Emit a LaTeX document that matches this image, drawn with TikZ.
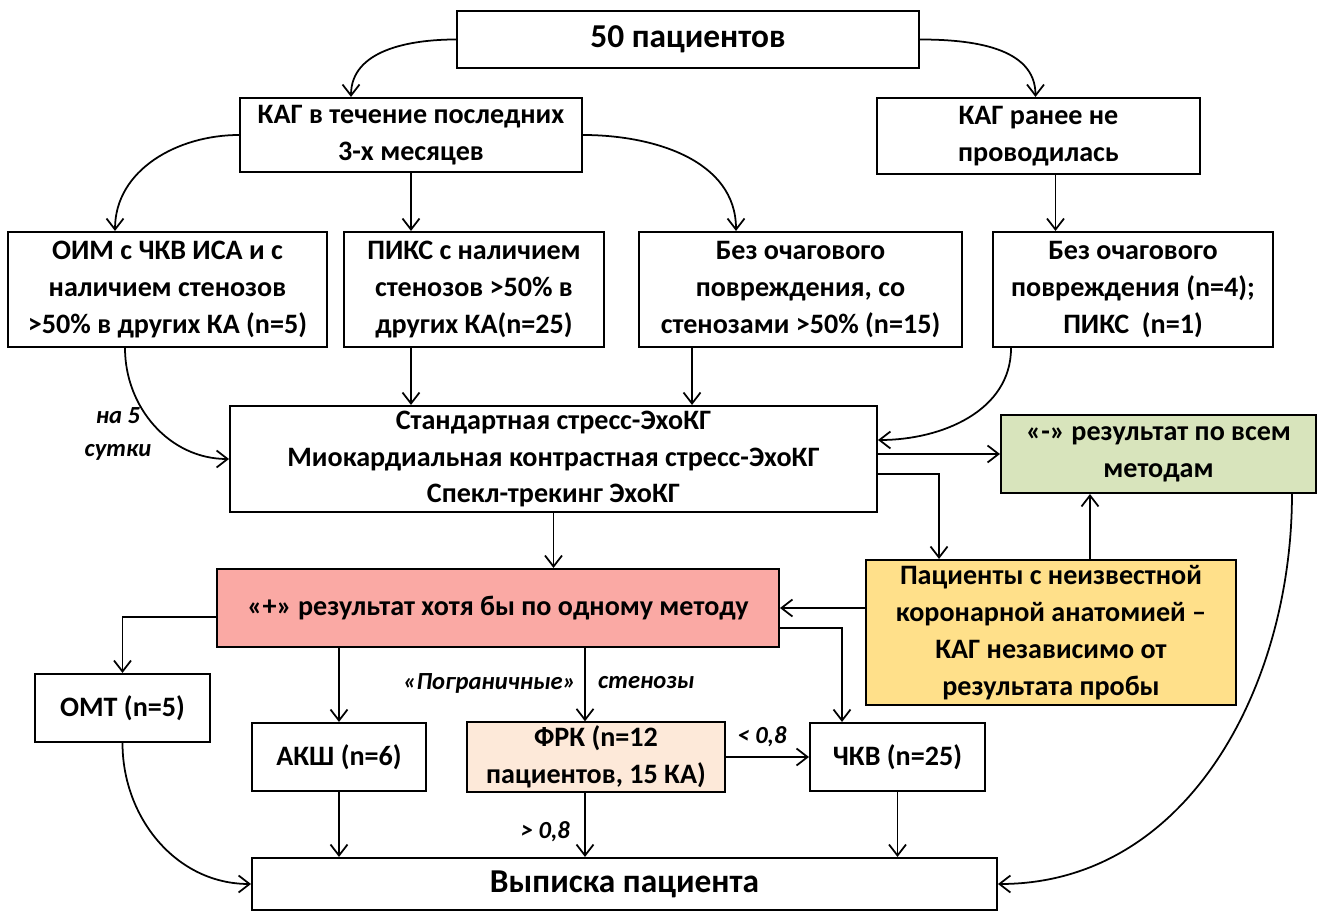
\documentclass[tikz,border=0pt]{standalone}
\usepackage{fontspec}
\setmainfont{Carlito}
\usetikzlibrary{arrows.meta}
\definecolor{posred}{RGB}{250,169,164}
\definecolor{neggreen}{RGB}{216,228,188}
\definecolor{unkyellow}{RGB}{255,224,138}
\definecolor{frkpeach}{RGB}{253,233,217}

\begin{document}
\begin{tikzpicture}[x=0.02cm, y=-0.02cm,
    box/.style={draw, line width=1.2pt, align=center, inner sep=2pt,
        font=\bfseries\fontsize{16}{21}\selectfont},
    bigbox/.style={box, font=\bfseries\fontsize{19}{23}\selectfont},
    arr/.style={-{Straight Barb[length=2.2mm,width=3.4mm]}, line width=1pt},
    lbl/.style={font=\bfseries\itshape\fontsize{14}{19}\selectfont, inner sep=1pt}]
    \useasboundingbox (0,0) rectangle (1328,911);

    % Top level
    \node[bigbox, minimum width=9.24cm, minimum height=1.14cm] (top) at (688,39.5) {50 пациентов};
    \node[box, minimum width=6.84cm, minimum height=1.48cm] (kag1) at (411,135) {КАГ в течение последних\\3-х месяцев};
    \node[box, minimum width=6.46cm, minimum height=1.52cm] (kag2) at (1038.5,136) {КАГ ранее не\\проводилась};

    % Patient groups
    \node[box, minimum width=6.38cm, minimum height=2.3cm] (oim) at (167.5,289.5) {ОИМ с ЧКВ ИСА и с\\наличием стенозов\\>50\% в других КА (n=5)};
    \node[box, minimum width=5.2cm, minimum height=2.3cm] (piks) at (474,289.5) {ПИКС с наличием\\стенозов >50\% в\\других КА(n=25)};
    \node[box, minimum width=6.46cm, minimum height=2.3cm] (bez1) at (800.5,289.5) {Без очагового\\повреждения, со\\стенозами >50\% (n=15)};
    \node[box, minimum width=5.6cm, minimum height=2.3cm] (bez2) at (1133,289.5) {Без очагового\\повреждения (n=4);\\ПИКС~ (n=1)};

    % Stress echo
    \node[box, minimum width=12.94cm, minimum height=2.12cm] (echo) at (553.5,459) {Стандартная стресс-ЭхоКГ\\Миокардиальная контрастная стресс-ЭхоКГ\\Спекл-трекинг ЭхоКГ};
    \node[box, fill=neggreen, minimum width=6.3cm, minimum height=1.56cm] (neg) at (1158.5,454) {«-» результат по всем\\методам};
    \node[box, fill=posred, minimum width=11.24cm, minimum height=1.56cm] (pos) at (498,608) {«+» результат хотя бы по одному методу};
    \node[box, fill=unkyellow, minimum width=7.4cm, minimum height=2.9cm] (unk) at (1051,632.5) {Пациенты с неизвестной\\коронарной анатомией –\\КАГ независимо от\\результата пробы};

    % Treatment
    \node[box, minimum width=3.5cm, minimum height=1.36cm] (omt) at (122.5,708) {ОМТ (n=5)};
    \node[box, minimum width=3.48cm, minimum height=1.36cm] (aksh) at (339,757) {АКШ (n=6)};
    \node[box, fill=frkpeach, minimum width=5.16cm, minimum height=1.36cm] (frk) at (596,757) {ФРК (n=12\\пациентов, 15 КА)};
    \node[box, minimum width=3.5cm, minimum height=1.36cm] (chkv) at (897.5,757) {ЧКВ (n=25)};
    \node[bigbox, minimum width=14.9cm, minimum height=1.04cm] (out) at (624.5,884) {Выписка пациента};

    % Arrows, upper part
    \draw[arr] (top.west) to[out=180, in=90] ([xshift=-1.2cm]kag1.north);
    \draw[arr] (top.east) to[out=0, in=90] ([xshift=-0.06cm]kag2.north);
    \draw[arr] (kag1.west) to[out=180, in=90] ([xshift=-1.05cm]oim.north);
    \draw[arr] (kag1.south) -- (kag1.south |- piks.north);
    \draw[arr] (kag1.east) to[out=0, in=90] ([xshift=-1.29cm]bez1.north);
    \coordinate (kag2out) at ([xshift=0.34cm]kag2.south);
    \draw[arr] (kag2out) -- (kag2out |- bez2.north);

    % Arrows into stress echo
    \draw[arr] ([xshift=-0.85cm]oim.south) to[out=-90, in=180] (echo.west);
    \node[lbl, align=center] (days) at (118,434) {на 5\\сутки};
    \draw[arr] (piks.south -| kag1.south) -- (kag1.south |- echo.north);
    \coordinate (bez1out) at ([xshift=-2.17cm]bez1.south);
    \draw[arr] (bez1out) -- (bez1out |- echo.north);
    \draw[arr] ([xshift=-2.44cm]bez2.south) to[out=-90, in=0] ([yshift=0.38cm]echo.east);

    % Stress echo results
    \draw[arr] (echo.east |- neg.west) -- (neg.west);
    \draw[arr] ([yshift=-0.3cm]echo.east) -| ([xshift=-2.24cm]unk.north);
    \coordinate (unkup) at ([xshift=0.78cm]unk.north);
    \draw[arr] (unkup) -- (unkup |- neg.south);
    \draw[arr] (unk.west |- pos.east) -- (pos.east);
    \draw[arr] (echo.south) -- (echo.south |- pos.north);
    \draw[arr] ([xshift=2.67cm]neg.south) to[out=-90, in=0] (out.east);

    % Treatment arrows
    \draw[arr] ([yshift=-0.18cm]pos.west) -| (omt.north);
    \draw[arr] (aksh.north |- pos.south) -- (aksh.north);
    \coordinate (frkin) at ([xshift=-0.22cm]frk.north);
    \draw[arr] (pos.south -| frkin) -- (frkin);
    \node[lbl, anchor=east] (border) at (578,683) {«Пограничные»};
    \node[lbl, anchor=west] (sten) at (596,683) {стенозы};
    \draw[arr] ([yshift=-0.4cm]pos.east) -| ([xshift=-1.11cm]chkv.north);
    \draw[arr] (frk.east) -- (chkv.west);
    \node[lbl] (lt) at (762,737) {< 0,8};
    \draw[arr] (frkin |- frk.south) -- (frkin |- out.north);
    \node[lbl, anchor=east] (gt) at (572,832) {> 0,8};
    \draw[arr] (aksh.south) -- (aksh.south |- out.north);
    \draw[arr] (chkv.south) -- (chkv.south |- out.north);
    \draw[arr] (omt.south) to[out=-90, in=180] (out.west);
\end{tikzpicture}
\end{document}
